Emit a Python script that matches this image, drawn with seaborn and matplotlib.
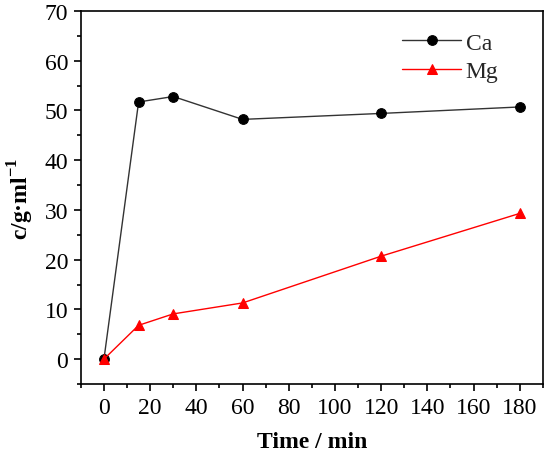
import matplotlib
matplotlib.use("Agg")
import matplotlib.pyplot as plt
import seaborn as sns
import pandas as pd
from matplotlib.ticker import MultipleLocator

time_min = [0, 15, 30, 60, 120, 180]
ca_values = [0, 51.7, 52.8, 48.2, 49.4, 50.7]
mg_values = [0, 6.8, 9.1, 11.3, 20.7, 29.3]

sns.set_theme(style="ticks")
plt.rcParams['font.family'] = ['Liberation Serif', 'DejaVu Serif']
plt.rcParams['mathtext.fontset'] = 'custom'
plt.rcParams['mathtext.rm'] = 'Liberation Serif'
plt.rcParams['mathtext.bf'] = 'Liberation Serif:bold'

df = pd.DataFrame({
    "Time": time_min * 2,
    "c": ca_values + mg_values,
    "Element": ["Ca"] * len(time_min) + ["Mg"] * len(time_min),
})

CA_COLOR = "#333333"
MG_COLOR = "#ff0000"

fig = plt.figure(figsize=(5.5, 4.6), dpi=100)
ax = fig.add_axes([0.147, 0.163, 0.840, 0.811])

sns.lineplot(data=df, x="Time", y="c", hue="Element", style="Element",
             palette={"Ca": CA_COLOR, "Mg": MG_COLOR},
             markers={"Ca": "o", "Mg": "^"}, dashes=False,
             markersize=7, linewidth=1, ax=ax)

for line in ax.lines:
    if line.get_color() == CA_COLOR:
        line.set_markerfacecolor("black"); line.set_markeredgecolor("black")
    else:
        line.set_markerfacecolor(MG_COLOR); line.set_markeredgecolor(MG_COLOR)

ax.set_xlim(-10, 190)
ax.set_ylim(-5, 70)
ax.xaxis.set_major_locator(MultipleLocator(20))
ax.xaxis.set_minor_locator(MultipleLocator(10))
ax.yaxis.set_major_locator(MultipleLocator(10))
ax.yaxis.set_minor_locator(MultipleLocator(5))
ax.tick_params(which="major", direction="out", length=5, width=1.2, labelsize=17,
               color="black", labelcolor="black", pad=4)
ax.tick_params(which="minor", direction="out", length=3, width=1.2, color="black")
for s in ax.spines.values():
    s.set_linewidth(1.2)
    s.set_color("black")
    s.set_visible(True)

ax.set_xlabel("Time / min", fontsize=17, fontweight="bold", labelpad=10, color="black")
ax.set_ylabel("c/g·ml$^{\\mathbf{-1}}$", fontsize=17, fontweight="bold", labelpad=6, color="black")

leg = ax.legend(loc="upper right", frameon=False, fontsize=17, handlelength=2.5,
                handletextpad=0.2, labelspacing=0.3, bbox_to_anchor=(0.95, 1.0))
for h in leg.legend_handles:
    if h.get_color() == CA_COLOR:
        h.set_markerfacecolor("black"); h.set_markeredgecolor("black")
    else:
        h.set_markerfacecolor(MG_COLOR); h.set_markeredgecolor(MG_COLOR)

fig.savefig("out.png", dpi=100)
